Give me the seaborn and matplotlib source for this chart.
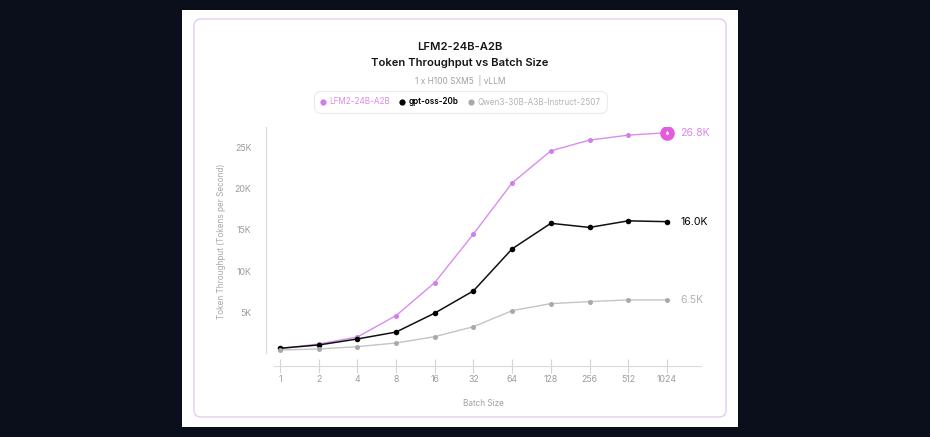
import numpy as np
import pandas as pd
import seaborn as sns
import matplotlib.pyplot as plt
from matplotlib.patches import FancyBboxPatch
from matplotlib.lines import Line2D
from matplotlib.path import Path
from matplotlib.ticker import FuncFormatter, NullLocator

# data (tokens per second)
batch_sizes = [1, 2, 4, 8, 16, 32, 64, 128, 256, 512, 1024]
lfm2 = [600, 1150, 2000, 4600, 8600, 14500, 20700, 24600, 25900, 26500, 26800]
gpt_oss = [630, 1030, 1760, 2600, 4900, 7600, 12700, 15800, 15300, 16100, 16000]
qwen3 = [420, 550, 830, 1270, 2040, 3250, 5200, 6050, 6300, 6500, 6500]
models = ["LFM2-24B-A2B", "gpt-oss-20b", "Qwen3-30B-A3B-Instruct-2507"]
y_ticks = [5000, 10000, 15000, 20000, 25000]

df = pd.DataFrame({
    "batch": batch_sizes * 3,
    "tps": lfm2 + gpt_oss + qwen3,
    "model": [m for m in models for _ in batch_sizes],
})

sns.set_theme(style="white")
plt.rcParams["font.family"] = ["Inter", "DejaVu Sans"]

W, H = 930, 437
fx = lambda px: px / W
fy = lambda py: 1 - py / H

fig = plt.figure(figsize=(9.3, 4.37), dpi=100, facecolor="#0b0f1c")

# white card + rounded lilac border (behind the axes)
fig.patches.append(FancyBboxPatch((fx(182), fy(427)), fx(738) - fx(182), fy(10) - fy(427),
                                  boxstyle="square,pad=0", transform=fig.transFigure,
                                  facecolor="white", edgecolor="none", zorder=-3))
fig.patches.append(FancyBboxPatch((fx(194), fy(417)), fx(726) - fx(194), fy(19) - fy(417),
                                  boxstyle=f"round,pad=0,rounding_size={7 / W}",
                                  mutation_aspect=W / H, transform=fig.transFigure,
                                  facecolor="none", edgecolor="#e4cdf2", lw=1.0, zorder=-2))

ax = fig.add_axes([fx(266), fy(366), fx(701) - fx(266), fy(127) - fy(366)])
ax.set_facecolor("none")

styles = {
    "LFM2-24B-A2B": dict(color="#d98cef", mcolor="#d07fe9", lw=1.0, ms=3.6, label_color="#d98ae8"),
    "gpt-oss-20b": dict(color="#111111", mcolor="#000000", lw=1.1, ms=4.0, label_color="#000000"),
    "Qwen3-30B-A3B-Instruct-2507": dict(color="#c4c4c4", mcolor="#a9a9a9", lw=1.0, ms=3.6, label_color="#b3b3b3"),
}

for m in models:
    st = styles[m]
    sub = df[df["model"] == m]
    sns.lineplot(data=sub, x="batch", y="tps", ax=ax, color=st["color"], linewidth=st["lw"],
                 marker="o", markersize=st["ms"], markerfacecolor=st["mcolor"],
                 markeredgewidth=0, legend=False, zorder=3)
    last = sub.iloc[-1]
    ax.annotate(f"{last['tps'] / 1000:.1f}K", (last["batch"], last["tps"]),
                xytext=(9.5, 0), textcoords="offset points", va="center", ha="left",
                fontsize=7.6, color=st["label_color"])

# badge on the LFM2 end point
ang = np.radians(np.linspace(150, 390, 40))
drop = Path(np.vstack([np.c_[np.cos(ang), np.sin(ang)], [[0, 2.0]], [[np.cos(ang[0]), np.sin(ang[0])]]]))
ax.scatter([batch_sizes[-1]], [lfm2[-1]], s=110, color="#e35cdb", zorder=5, linewidths=0)
ax.scatter([batch_sizes[-1]], [lfm2[-1]], s=16, marker=drop, color="white", zorder=6, linewidths=0)

ax.set_xscale("log", base=2)
ax.set_xlim(2 ** -0.36, 2 ** 10.88)
ax.set_ylim(-1520, 27490)
ax.set_xticks(batch_sizes)
ax.set_xticklabels([str(b) for b in batch_sizes])
ax.xaxis.set_minor_locator(NullLocator())
ax.set_yticks(y_ticks)
ax.yaxis.set_major_formatter(FuncFormatter(lambda v, p: f"{int(v / 1000)}K"))

for s in ["top", "right"]:
    ax.spines[s].set_visible(False)
ax.spines["left"].set_bounds(0, 27490)
ax.spines["left"].set_color("#dadada")
ax.spines["left"].set_linewidth(0.8)
ax.spines["bottom"].set_bounds(2 ** -0.155, 2 ** 10.88)
ax.spines["bottom"].set_color("#dadada")
ax.spines["bottom"].set_linewidth(0.8)

ax.tick_params(axis="x", bottom=True, direction="inout", length=10, width=0.8, color="#d4d4d4",
               labelcolor="#9c9c9c", labelsize=6.3, pad=1.5)
ax.tick_params(axis="y", left=False, labelcolor="#9c9c9c", labelsize=6.3, pad=4.5)

ax.set_xlabel("Batch Size", fontsize=5.9, color="#a0a0a0")
ax.set_ylabel("Token Throughput (Tokens per Second)", fontsize=5.9, color="#a8a8a8")
ax.xaxis.set_label_coords(0.5, -0.138)
ax.yaxis.set_label_coords(-0.093, 0.52)

# titles
fig.text(fx(460), fy(47), "LFM2-24B-A2B", ha="center", va="center", fontsize=8.1,
         fontweight="semibold", color="#161616")
fig.text(fx(460), fy(62.5), "Token Throughput vs Batch Size", ha="center", va="center",
         fontsize=8.1, fontweight="semibold", color="#161616")
fig.text(fx(460), fy(80), "1 x H100 SXM5  | vLLM", ha="center", va="center",
         fontsize=6, color="#a0a0a0")

# pill legend
handles = [Line2D([], [], linestyle="none", marker="o", markersize=4.5,
                  markerfacecolor=styles[m]["mcolor"], markeredgewidth=0) for m in models]
leg = ax.legend(handles, models, ncol=3, loc="center", bbox_to_anchor=(fx(460.5), fy(102)),
                bbox_transform=fig.transFigure, fontsize=5.85, frameon=True, fancybox=True,
                handlelength=0.6, handletextpad=0.5, columnspacing=1.2, borderpad=0.5,
                borderaxespad=0)
leg.get_frame().set_edgecolor("#e6e6e6")
leg.get_frame().set_linewidth(0.8)
leg.get_frame().set_boxstyle("round", pad=0.3, rounding_size=0.9)
for t, m in zip(leg.get_texts(), models):
    t.set_color(styles[m]["label_color"])
leg.get_texts()[1].set_fontweight("semibold")

fig.savefig("out.png", dpi=100, facecolor=fig.get_facecolor())
